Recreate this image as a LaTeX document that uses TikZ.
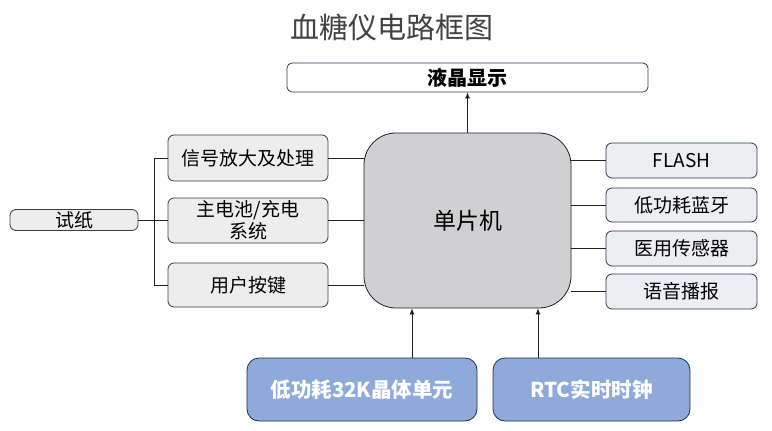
\documentclass[tikz,border=0pt]{standalone}
\usepackage{fontspec}
\setmainfont{Noto Sans CJK SC}
\usetikzlibrary{arrows.meta,positioning}
\definecolor{ink}{HTML}{202124}
\definecolor{edgegray}{HTML}{3C3C3C}
\definecolor{edgenavy}{HTML}{2E3A4E}
\definecolor{leftbg}{HTML}{EDEDED}
\definecolor{rightbg}{HTML}{ECEEF2}
\definecolor{mcubg}{HTML}{D0CFD1}
\definecolor{bluebg}{HTML}{8EAADB}
\definecolor{bluedge}{HTML}{1F2D4D}
\tikzset{
  flowarr/.style={-{Latex[length=6pt,width=5pt]},line width=0.8pt,color=ink},
  wire/.style={line width=0.8pt,color=ink},
  leftcard/.style={draw=edgegray,fill=leftbg,line width=0.8pt,rounded corners=6pt,align=center,inner sep=2pt,font=\fontsize{19}{22}\selectfont},
  rightcard/.style={draw=edgenavy,fill=rightbg,line width=0.8pt,rounded corners=6pt,align=center,inner sep=2pt,font=\fontsize{19}{22}\selectfont},
  mcucard/.style={draw=ink,fill=mcubg,line width=0.8pt,rounded corners=32pt,align=center,font=\fontsize{23}{27}\selectfont},
  bluecard/.style={draw=bluedge,fill=bluebg,line width=0.8pt,rounded corners=12pt,align=center,text=white,font=\fontsize{20.5}{24}\selectfont\bfseries},
  lcdcard/.style={draw=edgenavy,fill=white,line width=0.8pt,rounded corners=5pt,align=center,font=\fontsize{20}{23}\selectfont\bfseries}
}

\begin{document}
\begin{tikzpicture}[x=1pt,y=-1pt,>=Latex]
  \useasboundingbox (0,0) rectangle (772,431);
  \node[font=\fontsize{29}{33}\selectfont,text=ink!85] (title) at (392,27) {血糖仪电路框图};

  \node[lcdcard,minimum width=361pt,minimum height=29pt] (lcd) at (467.5,77.5) {液晶显示};
  \node[mcucard,minimum width=207pt,minimum height=175pt] (mcu) at (467.5,220.5) {单片机};

  \node[leftcard,minimum width=128pt,minimum height=21pt,inner sep=0pt] (paper) at (74,220) {试纸};
  \node[leftcard,minimum width=160pt,minimum height=46pt] (amp) at (248,158) {信号放大及处理};
  \node[leftcard,minimum width=160pt,minimum height=45pt,inner sep=0pt] (batt) at (248,220.5) {主电池/充电\\系统};
  \node[leftcard,minimum width=160pt,minimum height=44pt] (keys) at (248,285) {用户按键};

  \node[rightcard,minimum width=151pt,minimum height=35pt] (flash) at (681.5,160.5) {FLASH};
  \node[rightcard,minimum width=151pt,minimum height=34pt] (ble) at (681.5,205) {低功耗蓝牙};
  \node[rightcard,minimum width=151pt,minimum height=35pt] (sensor) at (681.5,248.5) {医用传感器};
  \node[rightcard,minimum width=151pt,minimum height=35pt] (voice) at (681.5,291.5) {语音播报};

  \node[bluecard,minimum width=230pt,minimum height=63pt] (xtal) at (362,389.5) {低功耗32K晶体单元};
  \node[bluecard,minimum width=197pt,minimum height=63pt] (rtc) at (591.5,389.5) {RTC实时时钟};

  % left side bus
  \coordinate (bt) at (154,158);
  \coordinate (bb) at (154,285);
  \draw[wire] (amp.west) -- (bt) -- (bb) -- (keys.west);
  \draw[wire] (paper.east) -- (paper.east -| batt.west);

  \draw[wire] (amp.east) -- (amp.east -| mcu.west);
  \draw[wire] (batt.east) -- (batt.east -| mcu.west);
  \draw[wire] (keys.east) -- (keys.east -| mcu.west);

  \draw[wire] (mcu.east |- flash.west) -- (flash.west);
  \draw[wire] (mcu.east |- ble.west) -- (ble.west);
  \draw[wire] (mcu.east |- sensor.west) -- (sensor.west);
  \draw[wire] (mcu.east |- voice.west) -- (voice.west);

  \draw[flowarr] (mcu.north) -- (lcd.south);
  \draw[flowarr] (xtal.north -| 412,0) -- (mcu.south -| 412,0);
  \draw[flowarr] (rtc.north -| 538,0) -- (mcu.south -| 538,0);
\end{tikzpicture}
\end{document}
